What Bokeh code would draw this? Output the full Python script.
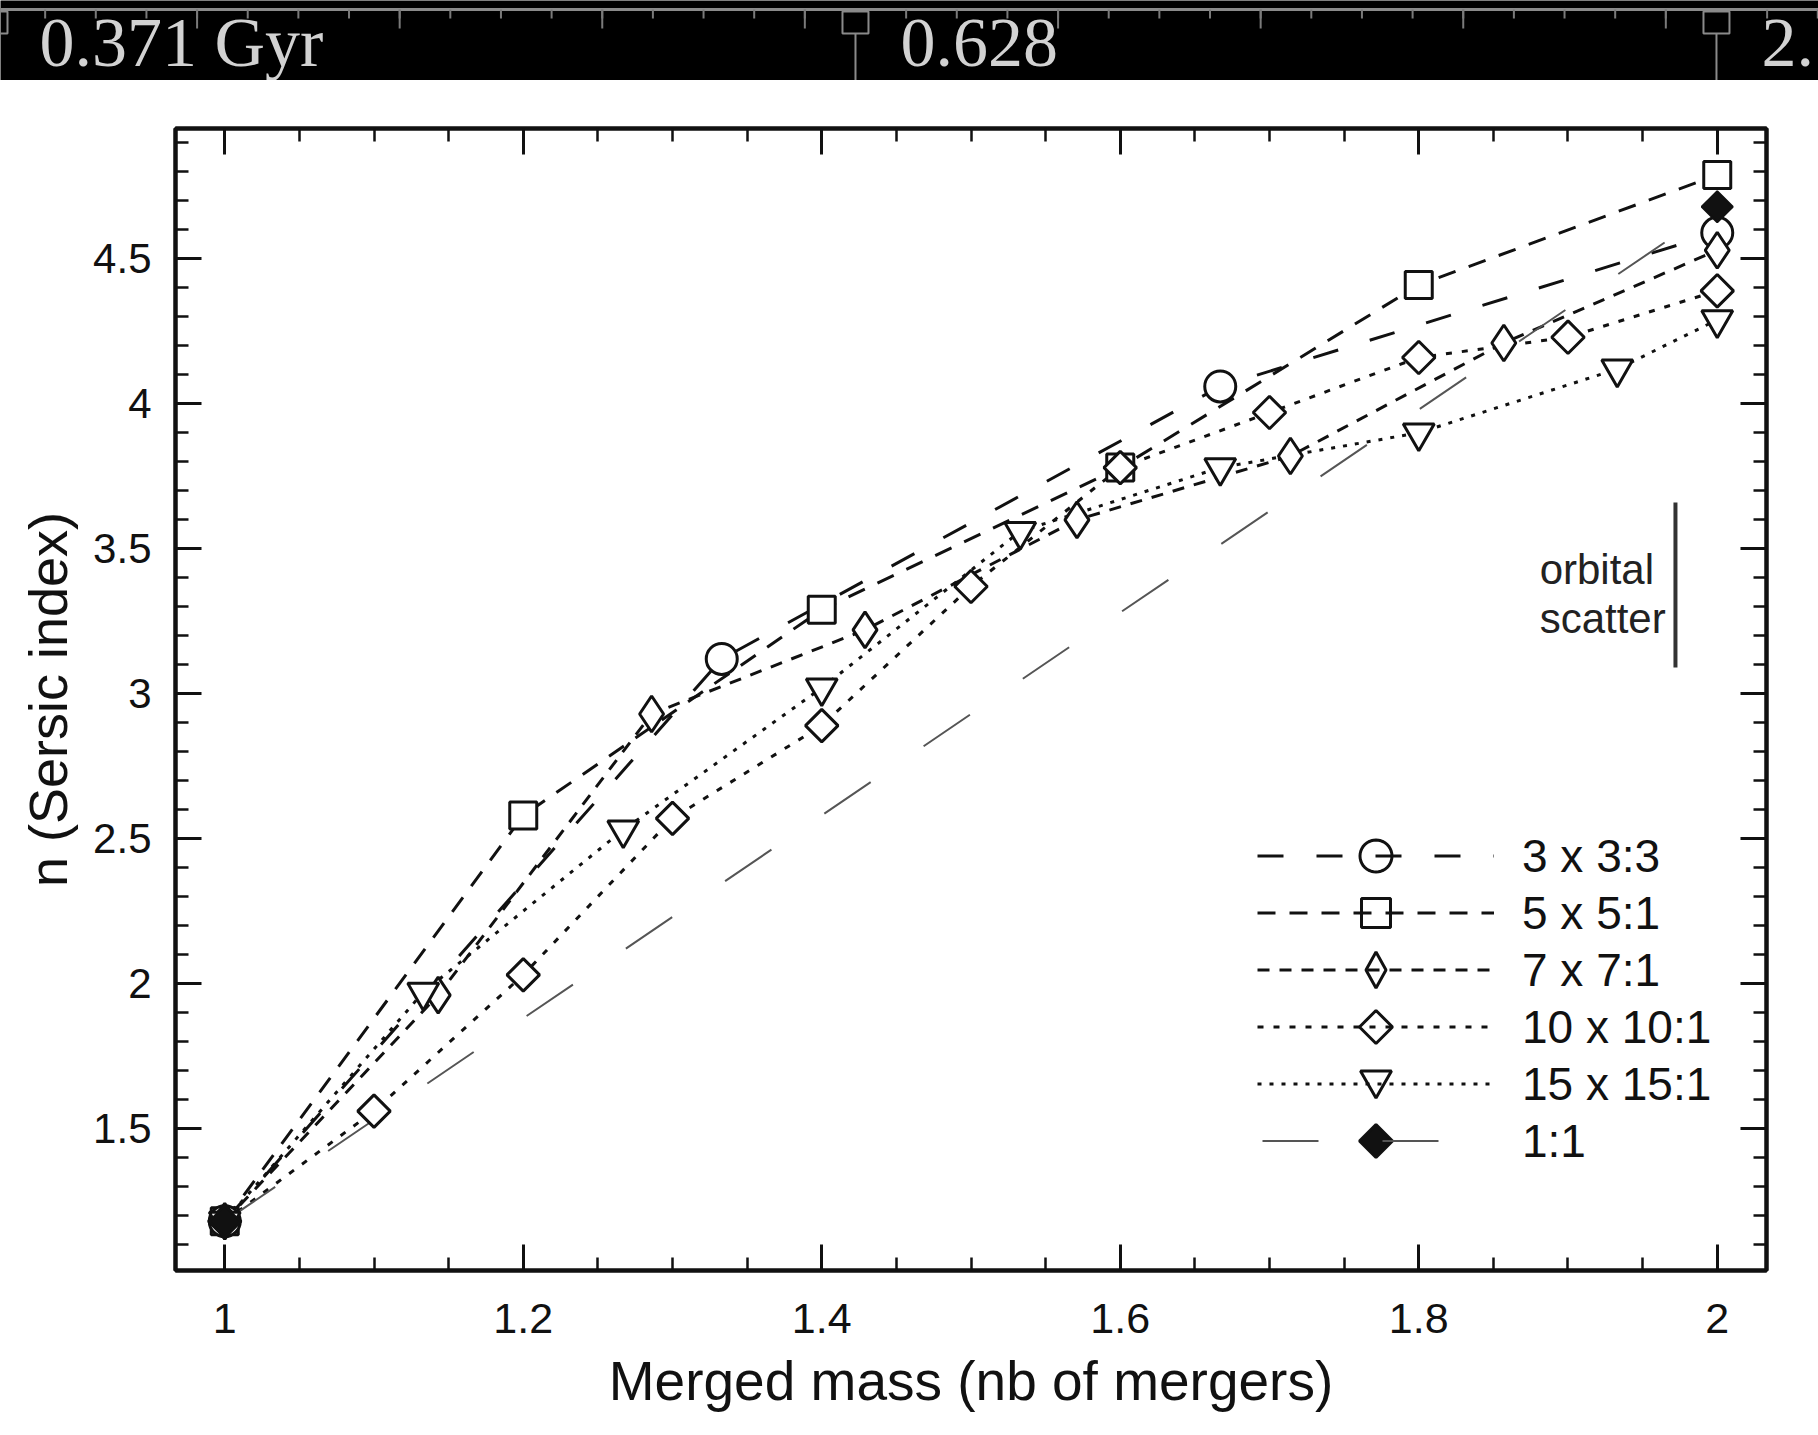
import math
from bokeh.plotting import figure
from bokeh.models import (Range1d, SingleIntervalTicker, NumeralTickFormatter, LinearAxis,
                          Legend, LegendItem, CustomJSTickFormatter, PolyAnnotation)
from bokeh.core.properties import value
from bokeh.embed import file_html
from bokeh.resources import INLINE

# ---------------- data ----------------
x_3x3 = [1.0, 1.333, 1.667, 2.0]
n_3x3 = [1.18, 3.12, 4.06, 4.59]

x_5x5 = [1.0, 1.2, 1.4, 1.6, 1.8, 2.0]
n_5x5 = [1.18, 2.58, 3.29, 3.78, 4.41, 4.79]

x_7x7 = [1.0, 1.143, 1.286, 1.429, 1.571, 1.714, 1.857, 2.0]
n_7x7 = [1.18, 1.96, 2.93, 3.22, 3.60, 3.82, 4.21, 4.53]

x_10x10 = [1.0, 1.1, 1.2, 1.3, 1.4, 1.5, 1.6, 1.7, 1.8, 1.9, 2.0]
n_10x10 = [1.18, 1.56, 2.03, 2.57, 2.89, 3.37, 3.78, 3.97, 4.16, 4.23, 4.39]

x_15x15 = [1.0, 1.133, 1.267, 1.4, 1.533, 1.667, 1.8, 1.933, 2.0]
n_15x15 = [1.18, 1.97, 2.53, 3.02, 3.56, 3.78, 3.90, 4.12, 4.29]

x_1to1 = [1.0, 2.0]
n_1to1 = [1.18, 4.68]

series_labels = ["3 x 3:3", "5 x 5:1", "7 x 7:1", "10 x 10:1", "15 x 15:1", "1:1"]

scatter_bar_x = [1.972]
scatter_bar_y0 = [3.09]
scatter_bar_y1 = [3.66]
scatter_text = ["orbital", "scatter"]
scatter_text_x = [1.881, 1.881]
scatter_text_y = [3.43, 3.26]

x_title = "Merged mass (nb of mergers)"
y_title = "n (Sersic index)"

# timeline strip on top of the screenshot
bar_major = [0, 1, 2]
bar_major_labels = ["0.371 Gyr", "0.628", "2."]
bar_minor = [i + k / 17 for i in range(-1, 3) for k in range(1, 17)]
bar_minor_long = [i + k / 17 for i in range(-1, 3) for k in (4, 8, 12, 16)]

FONT = "Liberation Sans"
INK = "#111111"
W = 1818

# ---------------- top black strip ----------------
bar = figure(width=W, height=80, output_backend="svg", toolbar_location=None,
             x_range=Range1d(0.00697, 2.1185), y_range=Range1d(0, 80),
             x_axis_type=None, y_axis_type=None,
             min_border_left=0, min_border_right=0, min_border_top=0, min_border_bottom=0,
             background_fill_color="black", border_fill_color="black", outline_line_color=None)
bar.xgrid.visible = False
bar.ygrid.visible = False
bar.segment(x0=[-0.1], x1=[2.2], y0=[71], y1=[71], line_color="#8a8a8a", line_width=3)
bar.segment(x0=bar_minor, x1=bar_minor, y0=[71] * len(bar_minor), y1=[62] * len(bar_minor),
            line_color="#7a7a7a", line_width=2)
bar.segment(x0=bar_minor_long, x1=bar_minor_long, y0=[71] * len(bar_minor_long),
            y1=[52] * len(bar_minor_long), line_color="#7a7a7a", line_width=2)
bar.rect(x=bar_major, y=[58] * 3, width=26, height=22, width_units="screen", height_units="data",
         fill_color=None, line_color="#8a8a8a", line_width=2)
bar.segment(x0=bar_major, x1=bar_major, y0=[47] * 3, y1=[0] * 3, line_color="#8a8a8a", line_width=2)
bar.text(x=bar_major, y=[38] * 3, text=bar_major_labels, x_offset=45,
         text_font=value("Liberation Serif"), text_font_size="70px",
         text_color="#d2d2d2", text_baseline="middle", text_align="left")

# ---------------- main chart ----------------
FL, FR, FT, FB = 175, 52, 48, 165
p = figure(width=W, height=1355, output_backend="svg", toolbar_location=None,
           x_range=Range1d(0.967, 2.033), y_range=Range1d(1.01, 4.95),
           min_border_left=FL, min_border_right=FR, min_border_top=FT, min_border_bottom=FB,
           background_fill_color="white", border_fill_color="white",
           outline_line_color=INK, outline_line_width=4)
p.xgrid.visible = False
p.ygrid.visible = False

bottom_ax = p.below[0]
left_ax = p.left[0]
bottom_ax.ticker = SingleIntervalTicker(interval=0.2, num_minor_ticks=4)
left_ax.ticker = SingleIntervalTicker(interval=0.5, num_minor_ticks=5)
bottom_ax.formatter = NumeralTickFormatter(format="0.[0]")
left_ax.formatter = NumeralTickFormatter(format="0.[0]")

top_ax = LinearAxis(ticker=SingleIntervalTicker(interval=0.2, num_minor_ticks=4),
                    formatter=CustomJSTickFormatter(code="return ''"))
right_ax = LinearAxis(ticker=SingleIntervalTicker(interval=0.5, num_minor_ticks=5),
                      formatter=CustomJSTickFormatter(code="return ''"))
p.add_layout(top_ax, "above")
p.add_layout(right_ax, "right")

for ax in [bottom_ax, left_ax, top_ax, right_ax]:
    ax.axis_line_color = INK
    ax.axis_line_width = 4
    ax.major_tick_in = 26
    ax.major_tick_out = 0
    ax.minor_tick_in = 13
    ax.minor_tick_out = 0
    ax.major_tick_line_color = INK
    ax.minor_tick_line_color = INK
    ax.major_tick_line_width = 3
    ax.minor_tick_line_width = 2.5
    ax.major_label_text_font = FONT
    ax.major_label_text_color = INK
    ax.axis_label_text_font = FONT
    ax.axis_label_text_font_style = "normal"
    ax.axis_label_text_color = INK

for ax in [top_ax, right_ax]:
    ax.major_label_text_font_size = "1px"
    ax.major_label_standoff = 0

bottom_ax.major_label_text_font_size = "43px"
left_ax.major_label_text_font_size = "42px"
bottom_ax.major_label_standoff = 33
left_ax.major_label_standoff = 24
bottom_ax.axis_label = x_title
left_ax.axis_label = y_title
bottom_ax.axis_label_text_font_size = "55px"
left_ax.axis_label_text_font_size = "54px"
bottom_ax.axis_label_standoff = 14
left_ax.axis_label_standoff = 12

LW = 3
dashes = ["26 33", "18 14", "12 10", "6 10", "4 8", "56 64"]
r1l = p.line(x_3x3, n_3x3, line_color=INK, line_width=LW, line_dash=dashes[0])
r2l = p.line(x_5x5, n_5x5, line_color=INK, line_width=LW, line_dash=dashes[1])
r3l = p.line(x_7x7, n_7x7, line_color=INK, line_width=LW, line_dash=dashes[2])
r4l = p.line(x_10x10, n_10x10, line_color=INK, line_width=LW, line_dash=dashes[3])
r5l = p.line(x_15x15, n_15x15, line_color=INK, line_width=LW, line_dash=dashes[4])
r6l = p.line(x_1to1, n_1to1, line_color="#555555", line_width=2, line_dash=dashes[5],
             line_dash_offset=115)

p.scatter(x_5x5, n_5x5, marker="square", size=27, fill_color="white", line_color=INK, line_width=3)
p.scatter(x_3x3, n_3x3, marker="circle", size=31, fill_color="white", line_color=INK, line_width=3)
p.scatter(x_7x7, n_7x7, marker="diamond", size=36, fill_color="white", line_color=INK, line_width=3)
p.scatter(x_10x10, n_10x10, marker="square", angle=math.pi / 4, size=23, fill_color="white",
          line_color=INK, line_width=3)
p.scatter(x_15x15, n_15x15, marker="inverted_triangle", size=31, fill_color="white",
          line_color=INK, line_width=3)
p.scatter(x_1to1, n_1to1, marker="square", angle=math.pi / 4, size=22, fill_color=INK,
          line_color=INK, line_width=2)

# orbital scatter annotation
p.segment(x0=scatter_bar_x, x1=scatter_bar_x, y0=scatter_bar_y0, y1=scatter_bar_y1,
          line_color="#333333", line_width=4)
p.text(x=scatter_text_x, y=scatter_text_y, text=scatter_text, text_font=value(FONT),
       text_font_size="42px", text_color="#222222", text_baseline="middle", text_align="left")

# legend: Bokeh legend draws the keyed lines and labels
LEG_X, LEG_Y, ROW, GW = 1082, 101, 57, 237
items = [LegendItem(label=lab, renderers=[r]) for lab, r in
         zip(series_labels, [r1l, r2l, r3l, r4l, r5l, r6l])]
legend = Legend(items=items, location=(LEG_X, LEG_Y), glyph_width=GW, glyph_height=ROW, spacing=0,
                label_standoff=28, padding=0, margin=0, border_line_color=None,
                background_fill_alpha=0, label_text_font=FONT, label_text_font_size="46px",
                label_text_color=INK)
p.add_layout(legend)


# legend key symbols (full-size, as in the original), placed on the legend rows
def key_shape(kind, cx, cy):
    if kind == "circle":
        r = 16
        pts = [(cx + r * math.cos(2 * math.pi * k / 40), cy + r * math.sin(2 * math.pi * k / 40))
               for k in range(40)]
    elif kind == "square":
        h = 14.5
        pts = [(cx - h, cy - h), (cx + h, cy - h), (cx + h, cy + h), (cx - h, cy + h)]
    elif kind == "thin":
        pts = [(cx, cy + 18), (cx + 10, cy), (cx, cy - 18), (cx - 10, cy)]
    elif kind == "tri":
        pts = [(cx - 15.5, cy + 13), (cx + 15.5, cy + 13), (cx, cy - 14)]
    else:
        d = 16.5
        pts = [(cx, cy + d), (cx + d, cy), (cx, cy - d), (cx - d, cy)]
    return [q[0] for q in pts], [q[1] for q in pts]


key_kinds = ["circle", "square", "thin", "diamond", "tri", "diamond"]
key_fill = ["white", "white", "white", "white", "white", INK]
top = LEG_Y + ROW * len(series_labels)
for i, (kind, fc) in enumerate(zip(key_kinds, key_fill)):
    cx = LEG_X + GW / 2
    cy = top - ROW / 2 - ROW * i
    xs, ys = key_shape(kind, cx, cy)
    p.add_layout(PolyAnnotation(xs=xs, ys=ys, xs_units="screen", ys_units="screen",
                                fill_color=fc, fill_alpha=1.0, line_color=INK, line_alpha=1.0,
                                line_width=3))

open("out.html", "w").write(file_html([bar, p], INLINE))
